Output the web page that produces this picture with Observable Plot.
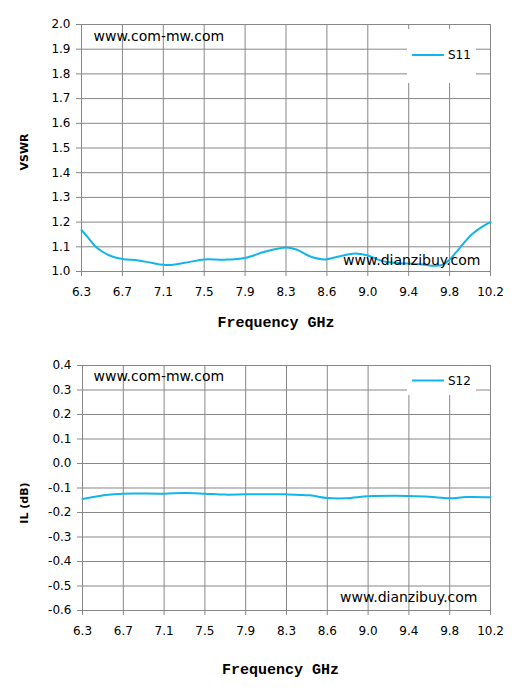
<!DOCTYPE html>
<html><head><meta charset="utf-8">
<script src="https://cdn.jsdelivr.net/npm/d3@7"></script>
<script src="https://cdn.jsdelivr.net/npm/@observablehq/plot@0.6"></script>
<style>
body{margin:0;background:#fff}
#c svg{display:block}
#c svg text.xlab{font-family:"Liberation Mono","Courier New",monospace !important;font-weight:bold}
</style>
</head><body><div id="c"></div>
<script>
// Category axis labels (evenly spaced)
const freqLabels = ["6.3","6.7","7.1","7.5","7.9","8.3","8.6","9.0","9.4","9.8","10.2"];
// S11 (VSWR): position along category axis (index units) and value
const s11Pos = [0,0.16,0.33,0.51,0.73,1,1.39,1.71,2,2.24,2.53,3,3.5,4,4.48,5,5.25,5.58,5.95,6.32,6.68,7,7.3,7.62,8,8.35,8.64,8.84,9,9.25,9.54,9.82,10];
const s11Val = [1.168,1.137,1.103,1.080,1.062,1.051,1.045,1.035,1.027,1.027,1.035,1.049,1.048,1.055,1.080,1.097,1.089,1.062,1.049,1.062,1.073,1.065,1.045,1.035,1.032,1.028,1.023,1.028,1.048,1.096,1.150,1.184,1.200];
// S12 (IL dB)
const s12Pos = [0,0.23,0.56,1,2,2.5,3,3.5,4,4.5,5,5.57,6,6.46,7,7.67,8,8.5,9,9.4,10];
const s12Val = [-0.145,-0.138,-0.129,-0.123,-0.123,-0.120,-0.123,-0.127,-0.126,-0.126,-0.126,-0.130,-0.141,-0.142,-0.134,-0.132,-0.133,-0.136,-0.142,-0.137,-0.138];
// Y tick labels
const vswrTicks = [1.0,1.1,1.2,1.3,1.4,1.5,1.6,1.7,1.8,1.9,2.0];
const ilTicks = [-0.6,-0.5,-0.4,-0.3,-0.2,-0.1,0.0,0.1,0.2,0.3,0.4];

const LINE = "#12B5EA";
const GRID = "#878787";
const W = 523, H = 344;

function chart({pos, val, yTicks, yLabel, series, mt, mb, ml, yLabelDy, xLabelDx, xLabelDy,
                wm1, wm2, legTop, legBottom}) {
  const data = pos.map((p, i) => ({x: p, y: val[i]}));
  const xTicks = freqLabels.map((_, i) => i);
  const svg = Plot.plot({
    width: W, height: H,
    marginLeft: ml, marginRight: 33, marginTop: mt, marginBottom: mb,
    style: {fontFamily: "'DejaVu Sans', sans-serif", fontSize: "12px", color: "#000", background: "#fff", overflow: "visible"},
    x: {domain: [0, freqLabels.length - 1]},
    y: {domain: [d3.min(yTicks), d3.max(yTicks)]},
    marks: [
      Plot.gridX(xTicks, {stroke: GRID, strokeOpacity: 1, strokeWidth: 1}),
      Plot.gridY(yTicks, {stroke: GRID, strokeOpacity: 1, strokeWidth: 1}),
      Plot.axisX(xTicks, {tickSize: 5, tickPadding: 11, stroke: GRID, strokeOpacity: 1, fill: "#000",
        tickFormat: i => freqLabels[i], label: null, fontSize: 12}),
      Plot.axisY(yTicks, {tickSize: 5, tickPadding: 6, stroke: GRID, strokeOpacity: 1, fill: "#000",
        tickFormat: d => d.toFixed(1), label: null, fontSize: 12}),
      Plot.line(data, {x: "x", y: "y", stroke: LINE, strokeWidth: 2, curve: "catmull-rom"}),
      Plot.text([wm1.text], {frameAnchor: "top-left", dx: wm1.dx, dy: wm1.dy, textAnchor: "start", lineAnchor: "middle", fontSize: 14, fill: "#000"}),
      Plot.text([wm2.text], {frameAnchor: "bottom-right", dx: wm2.dx, dy: wm2.dy, textAnchor: "end", lineAnchor: "middle", fontSize: 14, fill: "#000"}),
      Plot.text([yLabel], {frameAnchor: "left", dx: -(ml - 24), dy: yLabelDy, rotate: -90, textAnchor: "middle", lineAnchor: "middle",
        fontSize: 11, fontWeight: "bold", fill: "#000"}),
      Plot.text(["Frequency GHz"], {frameAnchor: "bottom", dx: xLabelDx, dy: xLabelDy, textAnchor: "middle", lineAnchor: "middle",
        fontSize: 15, fontWeight: "bold", fill: "#000"})
    ]
  });
  const s = d3.select(svg);
  s.selectAll("text").filter(function() { return this.textContent === "Frequency GHz"; }).classed("xlab", true);
  // Legend box (white, covering grid), placed in the plot's top-right area
  const right = W - 33;
  const g = s.append("g");
  g.append("rect").attr("x", right - 83).attr("y", legTop).attr("width", 69).attr("height", legBottom - legTop).attr("fill", "#fff");
  const ly = (legTop + legBottom) / 2 + (series === "S11" ? -1 : 0);
  g.append("line").attr("x1", right - 78).attr("x2", right - 46).attr("y1", ly).attr("y2", ly)
    .attr("stroke", LINE).attr("stroke-width", 2);
  g.append("text").attr("x", right - 42).attr("y", ly).attr("dy", "0.35em").attr("text-anchor", "start")
    .attr("font-family", "'DejaVu Sans', sans-serif").attr("font-size", 12).attr("fill", "#000").text(series);
  return svg;
}

const c = document.getElementById("c");
c.append(chart({
  pos: s11Pos, val: s11Val, yTicks: vswrTicks, yLabel: "VSWR", series: "S11",
  mt: 24, mb: 73, ml: 81, yLabelDy: 4, xLabelDx: -10, xLabelDy: 51,
  wm1: {text: "www.com-mw.com", dx: 12, dy: 12},
  wm2: {text: "www.dianzibuy.com", dx: -10, dy: -11},
  legTop: 29, legBottom: 83
}));
c.append(chart({
  pos: s12Pos, val: s12Val, yTicks: ilTicks, yLabel: "IL (dB)", series: "S12",
  mt: 21, mb: 78, ml: 82, yLabelDy: 15, xLabelDx: -6, xLabelDy: 59,
  wm1: {text: "www.com-mw.com", dx: 11, dy: 11},
  wm2: {text: "www.dianzibuy.com", dx: -13, dy: -13},
  legTop: 22, legBottom: 51
}));
</script>
</body></html>
